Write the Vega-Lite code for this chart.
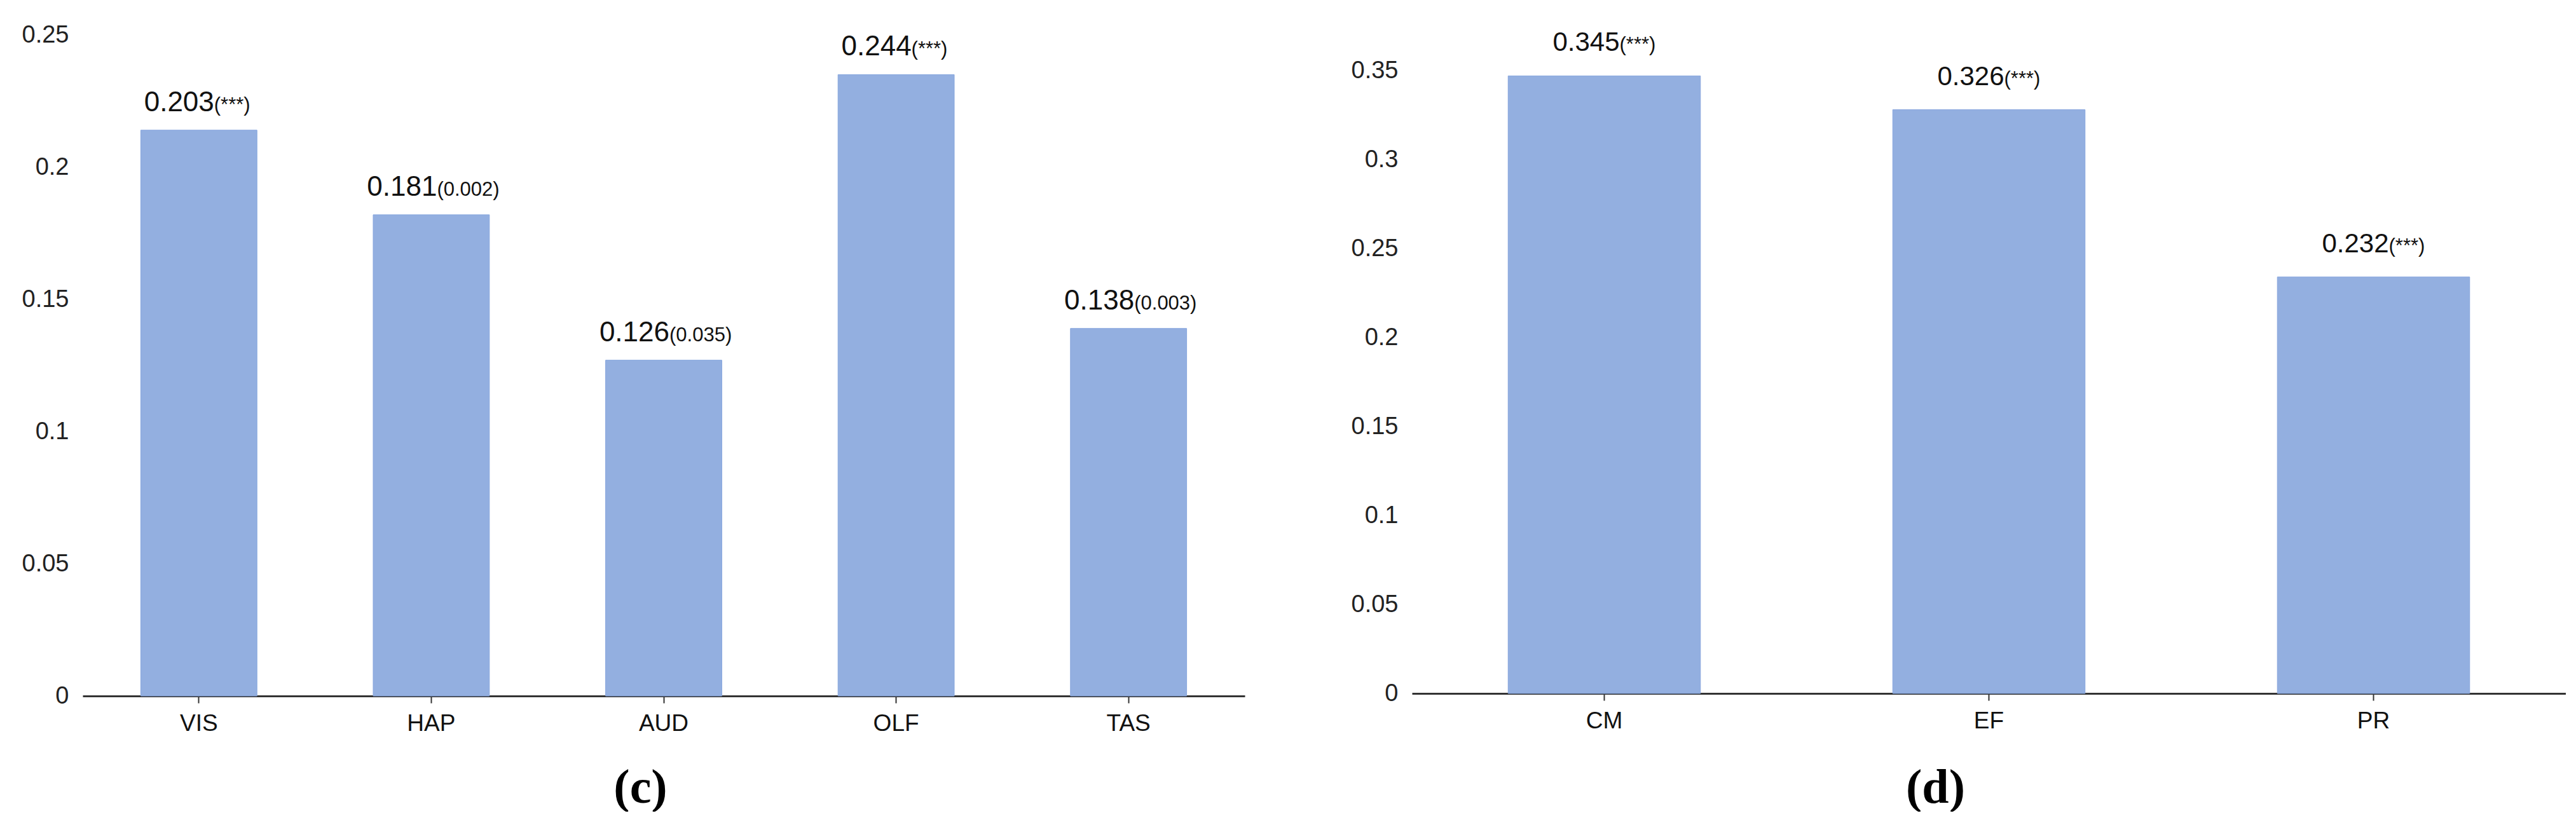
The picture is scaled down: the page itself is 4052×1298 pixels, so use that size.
{
  "$schema": "https://vega.github.io/schema/vega-lite/v6.json",
  "background": "white",
  "padding": {"left": 0, "top": 36, "right": 0, "bottom": 0},
  "datasets": {
    "c": [
      {"cat": "VIS", "r": 0.214, "label": "0.203", "p": "(***)"},
      {"cat": "HAP", "r": 0.182, "label": "0.181", "p": "(0.002)"},
      {"cat": "AUD", "r": 0.127, "label": "0.126", "p": "(0.035)"},
      {"cat": "OLF", "r": 0.235, "label": "0.244", "p": "(***)"},
      {"cat": "TAS", "r": 0.139, "label": "0.138", "p": "(0.003)"}
    ],
    "d": [
      {"cat": "CM", "r": 0.347, "label": "0.345", "p": "(***)"},
      {"cat": "EF", "r": 0.328, "label": "0.326", "p": "(***)"},
      {"cat": "PR", "r": 0.234, "label": "0.232", "p": "(***)"}
    ]
  },
  "spacing": 133,
  "hconcat": [
    {
      "width": 1828,
      "height": 1040,
      "data": {"name": "c"},
      "encoding": {
        "x": {
          "field": "cat", "type": "nominal", "sort": null,
          "scale": {"paddingInner": 0.5, "paddingOuter": 0.25},
          "axis": {
            "title": "(c)", "titleFont": "Liberation Serif", "titleFontWeight": "bold",
            "titleFontSize": 76, "titleColor": "#000", "titleX": 877, "titleY": 144,
            "titleBaseline": "middle", "titleAlign": "center"
          }
        },
        "y": {
          "field": "r", "type": "quantitative",
          "scale": {"domain": [0, 0.25], "nice": false},
          "axis": {"values": [0, 0.05, 0.1, 0.15, 0.2, 0.25], "format": "~g", "title": null, "minExtent": 130}
        }
      },
      "layer": [
        {"mark": {"type": "bar", "color": "#93AFE0", "stroke": "#86A5DD", "strokeWidth": 1}},
        {
          "transform": [{"filter": "datum.p == '(***)'"}],
          "layer": [
            {"mark": {"type": "text", "align": "right", "baseline": "alphabetic", "dx": 24, "dy": -30, "fontSize": 44, "font": "Liberation Sans", "color": "#111"}, "encoding": {"text": {"field": "label"}}},
            {"mark": {"type": "text", "align": "left", "baseline": "alphabetic", "dx": 24, "dy": -30, "fontSize": 31, "font": "Liberation Sans", "color": "#111"}, "encoding": {"text": {"field": "p"}}}
          ]
        },
        {
          "transform": [{"filter": "datum.p != '(***)'"}],
          "layer": [
            {"mark": {"type": "text", "align": "right", "baseline": "alphabetic", "dx": 9, "dy": -30, "fontSize": 44, "font": "Liberation Sans", "color": "#111"}, "encoding": {"text": {"field": "label"}}},
            {"mark": {"type": "text", "align": "left", "baseline": "alphabetic", "dx": 9, "dy": -30, "fontSize": 31, "font": "Liberation Sans", "color": "#111"}, "encoding": {"text": {"field": "p"}}}
          ]
        }
      ]
    },
    {
      "width": 1815,
      "height": 1036,
      "data": {"name": "d"},
      "encoding": {
        "x": {
          "field": "cat", "type": "nominal", "sort": null,
          "scale": {"paddingInner": 0.5, "paddingOuter": 0.25},
          "axis": {
            "title": "(d)", "titleFont": "Liberation Serif", "titleFontWeight": "bold",
            "titleFontSize": 76, "titleColor": "#000", "titleX": 823, "titleY": 148,
            "titleBaseline": "middle", "titleAlign": "center"
          }
        },
        "y": {
          "field": "r", "type": "quantitative",
          "scale": {"domain": [0, 0.37], "nice": false},
          "axis": {"values": [0, 0.05, 0.1, 0.15, 0.2, 0.25, 0.3, 0.35], "format": "~g", "title": null, "minExtent": 130}
        }
      },
      "layer": [
        {"mark": {"type": "bar", "color": "#93AFE0", "stroke": "#86A5DD", "strokeWidth": 1}},
        {"mark": {"type": "text", "align": "right", "baseline": "alphabetic", "dx": 24, "dy": -39, "fontSize": 42, "font": "Liberation Sans", "color": "#111"}, "encoding": {"text": {"field": "label"}}},
        {"mark": {"type": "text", "align": "left", "baseline": "alphabetic", "dx": 24, "dy": -39, "fontSize": 31, "font": "Liberation Sans", "color": "#111"}, "encoding": {"text": {"field": "p"}}}
      ]
    }
  ],
  "config": {
    "view": {"stroke": null},
    "axisX": {
      "domainColor": "#333", "domainWidth": 3, "tickColor": "#333", "tickSize": 11, "tickWidth": 2,
      "labelFontSize": 37, "labelFont": "Liberation Sans", "labelColor": "#111", "labelAngle": 0, "labelPadding": 14, "grid": false
    },
    "axisY": {
      "domain": false, "ticks": false, "grid": false,
      "labelFontSize": 38, "labelFont": "Liberation Sans", "labelColor": "#222", "labelPadding": 22
    }
  }
}
